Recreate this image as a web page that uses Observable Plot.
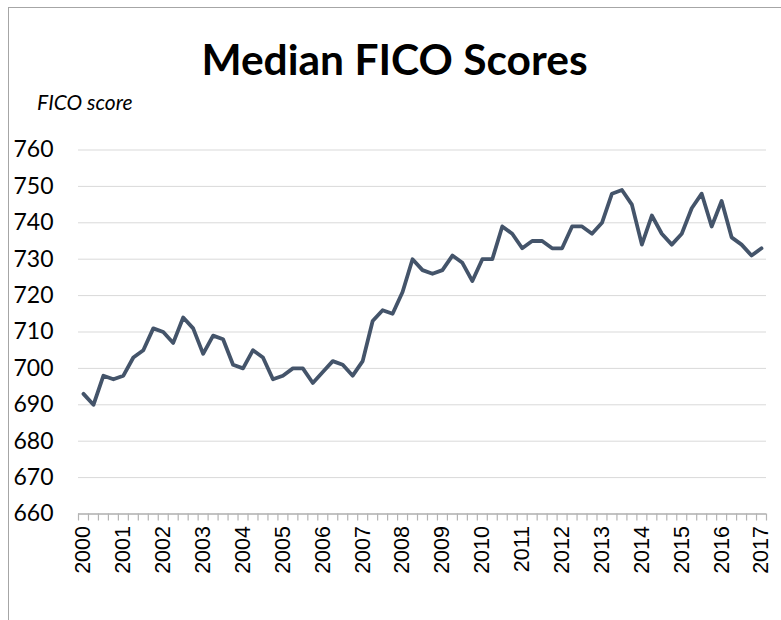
<!DOCTYPE html>
<html><head><meta charset="utf-8">
<script src="https://cdn.jsdelivr.net/npm/d3@7"></script>
<script src="https://cdn.jsdelivr.net/npm/@observablehq/plot@0.6"></script>
<style>
body{margin:0;background:#fff;}
#wrap{position:relative;width:781px;height:620px;overflow:hidden;font-family:Lato,sans-serif;color:#000;}
#frame{position:absolute;left:8px;top:7px;right:-4px;bottom:-4px;border-left:1.5px solid #a6a6a6;border-top:1.5px solid #a6a6a6;}
#title{position:absolute;left:8px;right:0;top:38px;text-align:center;font-weight:700;font-size:42.5px;line-height:1;}
#sub{position:absolute;left:37px;top:91px;font-style:italic;font-size:21px;line-height:1;}
#chart{position:absolute;left:0;top:120px;}
</style></head>
<body>
<div id="wrap">
  <div id="frame"></div>
  <div id="title">Median FICO Scores</div>
  <div id="sub">FICO score</div>
  <div id="chart"></div>
</div>
<script>
// Quarterly median FICO scores, 2000 Q1 – 2017 Q1
const yearLabels = ["2000","2001","2002","2003","2004","2005","2006","2007","2008","2009","2010","2011","2012","2013","2014","2015","2016","2017"];
const scores = [
  693,690,698,697,
  698,703,705,711,
  710,707,714,711,
  704,709,708,701,
  700,705,703,697,
  698,700,700,696,
  699,702,701,698,
  702,713,716,715,
  721,730,727,726,
  727,731,729,724,
  730,730,739,737,
  733,735,735,733,
  733,739,739,737,
  740,748,749,745,
  734,742,737,734,
  737,744,748,739,
  746,736,734,731,
  733
];
const yTicks = [660,670,680,690,700,710,720,730,740,750,760];

const data = scores.map((v, i) => ({q: i, v}));
const boundaries = scores.map((_, i) => i - 0.5).concat([scores.length - 0.5]);
const yearPos = yearLabels.map((_, k) => k * 4);

const chart = Plot.plot({
  width: 781,
  height: 500,
  marginLeft: 78,
  marginRight: 15,
  marginTop: 29.5,
  marginBottom: 106.5,
  style: {background: "transparent", color: "#000", fontFamily: "Lato, sans-serif"},
  x: {domain: [-0.5, scores.length - 0.5], axis: null, label: null},
  y: {domain: [660, 760], axis: null, label: null},
  marks: [
    Plot.gridY(yTicks, {stroke: "#d9d9d9", strokeOpacity: 1, strokeWidth: 1}),
    Plot.axisY(yTicks, {tickSize: 0, tickPadding: 25, fontSize: 23, fontFamily: "Lato, sans-serif", fill: "#000", label: null}),
    Plot.axisX(boundaries, {tickSize: 7, tickFormat: () => "", stroke: "#b4b4b4", strokeWidth: 1.2, label: null}),
    Plot.ruleY([660], {stroke: "#b4b4b4", strokeWidth: 1.5}),
    Plot.axisX(yearPos, {tickSize: 0, tickPadding: 12, tickRotate: -90, tickFormat: i => yearLabels[i / 4],
      fontSize: 21.5, fontFamily: "Liberation Sans, Arial, sans-serif", fill: "#000", label: null}),
    Plot.line(data, {x: "q", y: "v", stroke: "#44546a", strokeWidth: 3.8, strokeLinejoin: "round", strokeLinecap: "round"})
  ]
});
document.getElementById("chart").appendChild(chart);
</script>
</body></html>
